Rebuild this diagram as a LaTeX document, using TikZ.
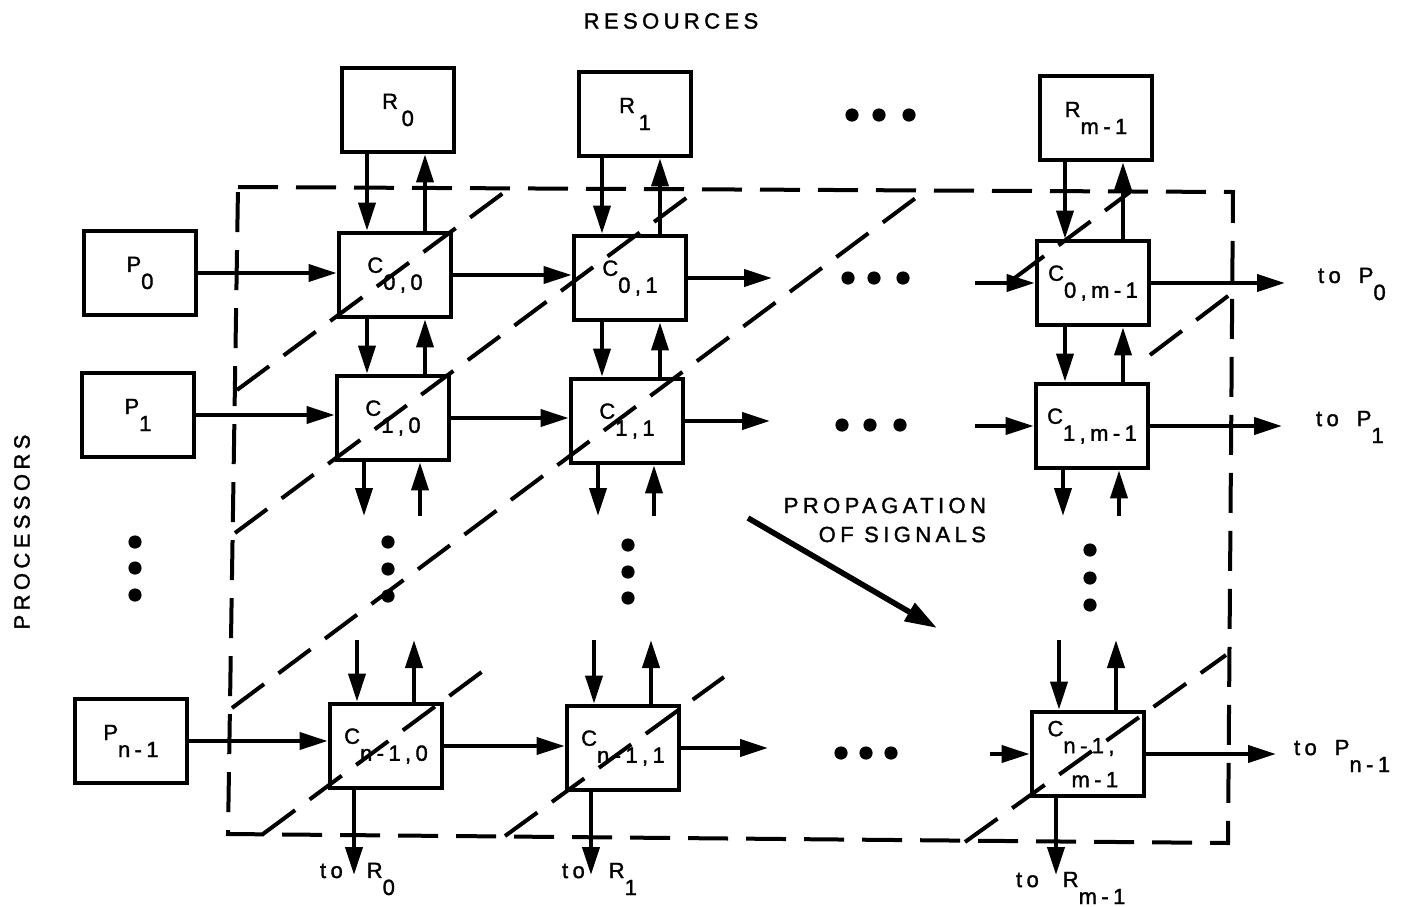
\documentclass[tikz,border=0pt]{standalone}
\usepackage{fontspec}
\setmainfont[LetterSpace=20, FakeBold=1.5]{Liberation Sans}
\usetikzlibrary{arrows.meta,calc}
\newcommand{\dn}[1]{\raisebox{-8.5pt}{#1}}
\newcommand{\gp}{\hspace{9pt}}
\newcommand{\gq}{\hspace{12pt}}
\begin{document}
\begin{tikzpicture}[x=0.5pt,y=-0.5pt,
  every node/.style={font=\fontsize{11pt}{14.5pt}\selectfont},
  box/.style={draw, line width=2.4pt, minimum width=56pt, minimum height=42pt, inner sep=0pt},
  arr/.style={line width=2pt, -{Triangle[length=14pt,width=8.5pt]}},
  bigarr/.style={line width=2.8pt, -{Triangle[length=16pt,width=10pt]}},
  dsh/.style={line width=2pt, dash pattern=on 20pt off 9pt},
  dotf/.style={fill=black}]
\useasboundingbox (0,0) rectangle (1426,906);

% ---- titles
\node (res) at (671,21) {RESOURCES};
\node[rotate=90] (proc) at (22,532) {PROCESSORS};
\node[align=right, anchor=east] (prop) at (993,520) {PROPAGATION\\OF SIGNALS};

% ---- resource boxes
\node[box] (R0) at (398,110) {R\,\dn{0}};
\node[box] (R1) at (635,114) {R\,\dn{1}};
\node[box] (Rm) at (1096,118) {R\dn{m-1}};

% ---- processor boxes
\node[box] (P0) at (140,273) {P\dn{0}};
\node[box] (P1) at (138,415) {P\dn{1}};
\node[box] (Pn) at (131,741) {P\dn{n-1}};

% ---- cells
\node[box] (C00) at (395,275) {C\dn{0,0}};
\node[box] (C01) at (630,278) {C\dn{0,1}};
\node[box] (C0m) at (1093,283) {C\dn{0,m-1}};
\node[box] (C10) at (393,418) {C\dn{1,0}};
\node[box] (C11) at (627,421) {C\dn{1,1}};
\node[box] (C1m) at (1092,426) {C\dn{1,m-1}};
\node[box] (Cn0) at (386,746) {C\dn{n-1,0}};
\node[box] (Cn1) at (623,748) {C\dn{n-1,1}};
\node[box, align=left] (Cnm) at (1088,754) {C\dn{n-1,}\hspace*{7pt}\\[7pt]\hspace*{12pt}m-1};

% ---- dashed boundary and wavefronts
\draw[dsh] (238,187) -- (1233,192) -- (1228,843) -- (228,834) -- cycle;
\draw[dsh] (237,390) -- (510,188);
\draw[dsh] (235,533) -- (697,190);
\draw[dsh] (232,708) -- (925,191);
\draw[dsh] (263,834) -- (487,668);
\draw[dsh] (505,836) -- (724,677);
\draw[dsh] (965,842) -- (1226,655);
\draw[dsh] (1012,280) -- (1130,192);
\draw[dsh] (1150,355) -- (1232,293);

% ---- free ends
\coordinate (e0) at (772,278);
\coordinate (s0) at (975,283);
\coordinate (o0) at (1285,283);
\coordinate (e1) at (770,423);
\coordinate (s1) at (975,426);
\coordinate (o1) at (1282,426);
\coordinate (en) at (768,750);
\coordinate (sn) at (990,754);
\coordinate (on) at (1276,754);
\coordinate (yb) at (0,516);
\coordinate (ya) at (0,640);
\coordinate (yr) at (0,875);

% ---- horizontal arrows
\draw[arr] (P0.east) -- (P0.east -| C00.west);
\draw[arr] (C00.east) -- (C00.east -| C01.west);
\draw[arr] (C01.east) -- (C01.east -| e0);
\draw[arr] (s0) -- (C0m.west);
\draw[arr] (C0m.east) -- (C0m.east -| o0);
\draw[arr] (P1.east) -- (P1.east -| C10.west);
\draw[arr] (C10.east) -- (C10.east -| C11.west);
\draw[arr] (C11.east) -- (C11.east -| e1);
\draw[arr] (s1) -- (C1m.west);
\draw[arr] (C1m.east) -- (C1m.east -| o1);
\draw[arr] (Pn.east) -- (Pn.east -| Cn0.west);
\draw[arr] (Cn0.east) -- (Cn0.east -| Cn1.west);
\draw[arr] (Cn1.east) -- (Cn1.east -| en);
\draw[arr] (sn) -- (Cnm.west);
\draw[arr] (Cnm.east) -- (Cnm.east -| on);

% ---- vertical arrows R <-> row 0
\foreach \r/\c in {R0/C00, R1/C01, Rm/C0m} {
  \draw[arr] let \p1=(\c.north), \p2=(\r.south) in (\x1-14pt,\y2) -- (\x1-14pt,\y1);
  \draw[arr] let \p1=(\c.north), \p2=(\r.south) in (\x1+15pt,\y1) -- (\x1+15pt,\y2);
}
% ---- row 0 <-> row 1
\foreach \a/\b in {C00/C10, C01/C11, C0m/C1m} {
  \draw[arr] let \p1=(\a.south), \p2=(\b.north) in (\x1-14pt,\y1) -- (\x1-14pt,\y2);
  \draw[arr] let \p1=(\a.south), \p2=(\b.north) in (\x1+15pt,\y2) -- (\x1+15pt,\y1);
}
% ---- below row 1
\foreach \c in {C10, C11, C1m} {
  \draw[arr] let \p1=(\c.south), \p2=(yb) in (\x1-14.5pt,\y1) -- (\x1-14.5pt,\y2);
  \draw[arr] let \p1=(\c.south), \p2=(yb) in (\x1+13.5pt,\y2) -- (\x1+13.5pt,\y1);
}
% ---- above row n-1
\foreach \c in {Cn0, Cn1, Cnm} {
  \draw[arr] let \p1=(\c.north), \p2=(ya) in (\x1-14.5pt,\y2) -- (\x1-14.5pt,\y1);
  \draw[arr] let \p1=(\c.north), \p2=(ya) in (\x1+14pt,\y1) -- (\x1+14pt,\y2);
}
% ---- to R
\foreach \c in {Cn0, Cn1, Cnm} {
  \draw[arr] let \p1=(\c.south), \p2=(yr) in (\x1-16pt,\y1) -- (\x1-16pt,\y2);
}

% ---- output labels
\node[anchor=west] (tP0) at (1311,284) {to\gp P\dn{0}};
\node[anchor=west] (tP1) at (1309,427) {to\gp P\dn{1}};
\node[anchor=west] (tPn) at (1287,756) {to\gp P\dn{n-1}};
\node[anchor=west] (tR0) at (313,879) {to\gq R\dn{0}};
\node[anchor=west] (tR1) at (555,879) {to\gq R\dn{1}};
\node[anchor=west] (tRm) at (1009,888) {to\gq R\dn{m-1}};

% ---- propagation arrow
\coordinate (pa) at (748,518);
\coordinate (pb) at (937,628);
\draw[bigarr] (pa) -- (pb);

% ---- ellipsis dots
\foreach \x/\y in {852/115, 879/115, 909/115,
                   848/278, 874/278, 903/278,
                   842/425, 870/425, 900/425,
                   841/753, 866/753, 891/753,
                   388/542, 388/569, 388/596,
                   628/545, 628/572, 628/598,
                   1090/550, 1090/578, 1090/605,
                   135/542, 135/568, 135/595}
  \fill[dotf] (\x,\y) circle[radius=3.3pt];
\end{tikzpicture}
\end{document}
